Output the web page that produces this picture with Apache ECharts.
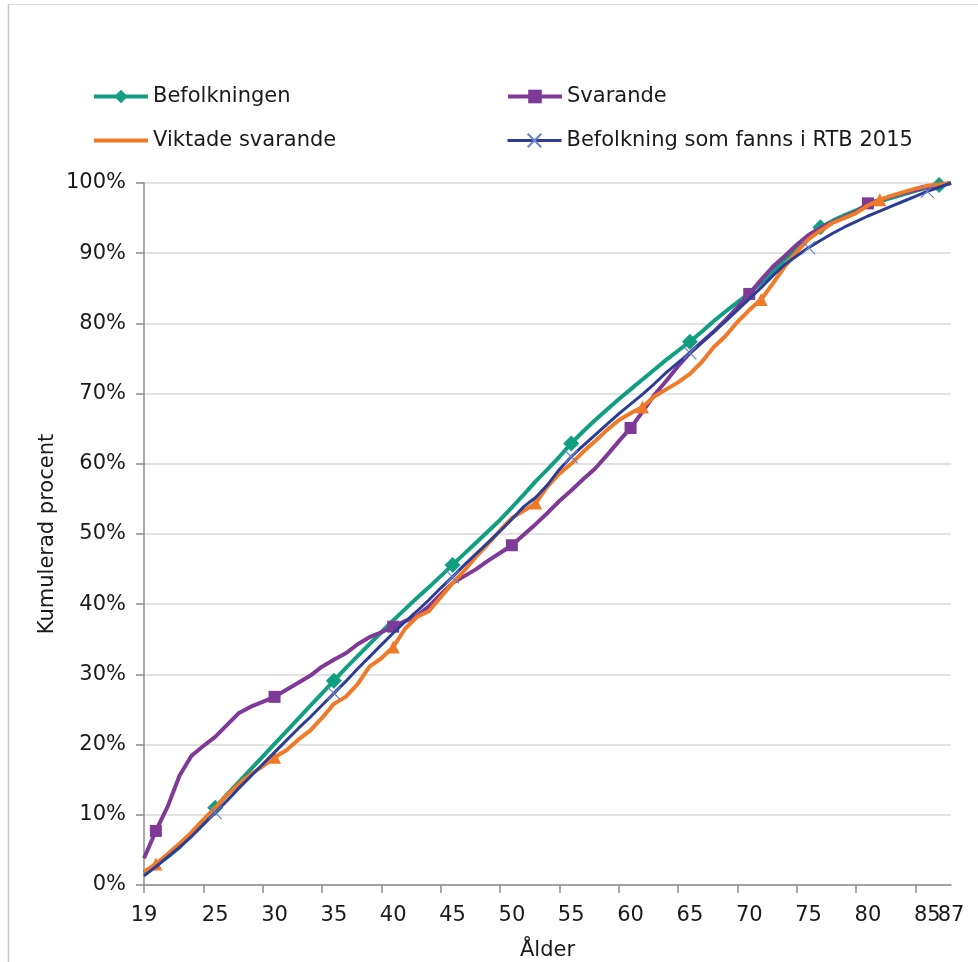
<!DOCTYPE html>
<html>
<head>
<meta charset="utf-8">
<script src="https://cdn.jsdelivr.net/npm/echarts@6/dist/echarts.min.js"></script>
<style>
  html, body { margin: 0; padding: 0; background: #ffffff; }
  #chart { width: 978px; height: 962px; }
</style>
</head>
<body>
<div id="chart"></div>
<script>
const ages = [19,20,21,22,23,24,25,26,27,28,29,30,31,32,33,34,35,36,37,38,39,40,41,42,43,44,45,46,47,48,49,50,51,52,53,54,55,56,57,58,59,60,61,62,63,64,65,66,67,68,69,70,71,72,73,74,75,76,77,78,79,80,81,82,83,84,85,86,87];
const xTickLabels = [19,25,30,35,40,45,50,55,60,65,70,75,80,85,87];

const befolkningen = [1.7,2.8,4.0,5.4,7.1,9.0,11.0,12.9,14.7,16.5,18.3,20.1,21.9,23.7,25.5,27.3,29.1,30.9,32.6,34.3,36.0,37.7,39.3,40.9,42.4,44.0,45.6,47.2,48.8,50.4,52.0,53.8,55.6,57.5,59.2,61.0,62.9,64.6,66.2,67.7,69.2,70.6,72.0,73.4,74.8,76.1,77.4,78.8,80.3,81.7,83.0,84.3,85.8,87.4,89.1,90.8,92.5,93.7,94.6,95.4,96.1,96.8,97.4,97.9,98.4,98.9,99.3,99.7,100];
const svarande = [3.8,7.7,11.2,15.6,18.4,19.8,21.1,22.8,24.5,25.4,26.1,26.8,27.8,28.8,29.8,31.1,32.1,33.0,34.3,35.3,36.0,36.8,37.6,38.3,39.7,41.4,43.0,44.0,45.0,46.2,47.3,48.4,49.9,51.4,53.0,54.7,56.2,57.8,59.3,61.2,63.2,65.1,67.4,69.8,71.8,73.9,75.8,77.3,78.8,80.5,82.3,84.2,86.2,88.1,89.6,91.2,92.6,93.6,94.4,95.1,95.9,97.1,97.6,98.1,98.6,99.0,99.4,99.7,100];
const viktadeSvarande = [1.9,3.0,4.4,5.9,7.5,9.3,11.0,12.8,14.4,15.8,16.9,18.2,19.2,20.7,22.0,23.8,25.8,26.8,28.6,31.1,32.3,33.9,36.5,38.2,39.0,41.0,43.0,44.8,46.8,48.6,50.5,52.3,53.3,54.4,56.8,58.6,60.0,61.7,63.2,64.8,66.2,67.2,68.1,69.6,70.6,71.6,72.8,74.5,76.6,78.2,80.2,81.9,83.4,85.7,88.1,90.2,92.0,93.2,94.3,95.0,95.7,96.8,97.6,98.2,98.7,99.2,99.6,99.8,100];
const rtb2015 = [1.3,2.6,4.0,5.4,6.9,8.6,10.3,12.0,13.8,15.5,17.2,18.9,20.6,22.3,23.9,25.6,27.3,29.0,30.8,32.5,34.2,35.9,37.5,39.0,40.6,42.3,43.9,45.6,47.2,48.8,50.4,52.1,53.9,55.2,57.0,59.2,61.0,62.6,64.1,65.6,67.1,68.5,69.9,71.4,73.0,74.4,75.8,77.3,78.8,80.3,81.9,83.5,85.1,86.8,88.4,89.6,90.8,91.8,92.8,93.7,94.5,95.3,96.0,96.7,97.4,98.1,98.8,99.4,100];

const befMarkers = [25,35,45,55,65,76,86];
const svaMarkers = [20,30,40,50,60,70,80];
const vikMarkers = [20,30,40,52,61,71,81];
const rtbMarkers = [25,35,45,55,65,75,85];

const seriesNames = ['Befolkningen', 'Svarande', 'Viktade svarande', 'Befolkning som fanns i RTB 2015'];

const FONT = 'DejaVu Sans';
const TXT = '#1a1a1a';
const AXIS = '#8c8c8c';

function withMarkers(values, markerAges, symbol, size) {
  return values.map((v, i) => markerAges.indexOf(ages[i]) >= 0
    ? { value: v, symbol: symbol, symbolSize: size }
    : { value: v, symbol: 'none' });
}

const crossPath = 'path://M0,0L10,10M10,0L0,10';
const lastAge = ages[ages.length - 1];

const chart = echarts.init(document.getElementById('chart'), null, { renderer: 'canvas' });

const legendCommon = {
  orient: 'horizontal',
  padding: 0,
  itemWidth: 54,
  itemHeight: 17,
  itemGap: 0,
  lineStyle: { width: 4 },
  textStyle: { fontFamily: FONT, fontSize: 21, color: TXT },
  selectedMode: false
};

const xLabelStyle = { fontFamily: FONT, fontSize: 21, color: TXT };

chart.setOption({
  backgroundColor: '#ffffff',
  animation: false,
  textStyle: { fontFamily: FONT },
  graphic: [
    { type: 'line', shape: { x1: 8, y1: 4.5, x2: 978, y2: 4.5 }, style: { stroke: '#d9d9d9', lineWidth: 1 } },
    { type: 'line', shape: { x1: 8.5, y1: 4, x2: 8.5, y2: 962 }, style: { stroke: '#c8c8c8', lineWidth: 1.5 } }
  ],
  legend: [
    Object.assign({}, legendCommon, { left: 92, top: 86, data: [seriesNames[0]] }),
    Object.assign({}, legendCommon, { left: 506, top: 86, data: [seriesNames[1]] }),
    Object.assign({}, legendCommon, { left: 92, top: 130, data: [{ name: seriesNames[2], itemStyle: { color: 'rgba(0,0,0,0)', borderWidth: 0 } }] }),
    Object.assign({}, legendCommon, { left: 506, top: 130, lineStyle: { width: 3 }, data: [seriesNames[3]] })
  ],
  grid: { left: 144, right: 27, top: 183, bottom: 77, containLabel: false, outerBoundsMode: 'none' },
  xAxis: [
    {
      type: 'category',
      data: ages.map(String),
      boundaryGap: false,
      name: 'Ålder',
      nameLocation: 'middle',
      nameGap: 55,
      nameTextStyle: { fontFamily: FONT, fontSize: 21, color: TXT },
      axisLine: { show: true, lineStyle: { color: AXIS, width: 1.5 } },
      axisTick: { show: true, length: 8, interval: (i) => i % 5 === 0, lineStyle: { color: AXIS, width: 1.5 } },
      axisLabel: Object.assign({
        interval: (i, v) => xTickLabels.indexOf(Number(v)) >= 0,
        margin: 20,
        showMinLabel: true, showMaxLabel: false
      }, xLabelStyle),
      splitLine: { show: false }
    },
    {
      type: 'category',
      data: ages.map(String),
      boundaryGap: false,
      position: 'bottom',
      axisLine: { show: false },
      axisTick: { show: false },
      axisLabel: Object.assign({
        interval: (i, v) => Number(v) === lastAge,
        margin: 20,
        showMinLabel: false, showMaxLabel: true
      }, xLabelStyle),
      splitLine: { show: false }
    }
  ],
  yAxis: {
    type: 'value',
    min: 0, max: 100, interval: 10,
    name: 'Kumulerad procent',
    nameLocation: 'middle',
    nameGap: 86,
    nameMoveOverlap: false,
    nameRotate: 90,
    nameTextStyle: { fontFamily: FONT, fontSize: 21, color: TXT },
    axisLine: { show: true, lineStyle: { color: AXIS, width: 1.5 } },
    axisTick: { show: true, length: 8, lineStyle: { color: AXIS, width: 1.5 } },
    axisLabel: { formatter: '{value}%', margin: 18, fontFamily: FONT, fontSize: 21, color: TXT },
    splitLine: { show: true, lineStyle: { color: '#d9d9d9', width: 1.5 } }
  },
  series: [
    {
      name: seriesNames[0], type: 'line',
      data: withMarkers(befolkningen, befMarkers, 'diamond', 16),
      symbol: 'diamond', symbolSize: 16, showSymbol: true, showAllSymbol: true,
      itemStyle: { color: '#129e80' },
      lineStyle: { color: '#129e80', width: 4 }, z: 2
    },
    {
      name: seriesNames[1], type: 'line',
      data: withMarkers(svarande, svaMarkers, 'rect', 12),
      symbol: 'rect', symbolSize: 12, showSymbol: true, showAllSymbol: true,
      itemStyle: { color: '#7e3a96' },
      lineStyle: { color: '#7e3a96', width: 4 }, z: 3
    },
    {
      name: seriesNames[2], type: 'line',
      data: withMarkers(viktadeSvarande, vikMarkers, 'triangle', 13),
      symbol: 'triangle', symbolSize: 13, showSymbol: true, showAllSymbol: true,
      itemStyle: { color: '#f07a28' },
      lineStyle: { color: '#f07a28', width: 4 }, z: 4
    },
    {
      name: seriesNames[3], type: 'line',
      data: withMarkers(rtb2015, rtbMarkers, crossPath, 13),
      symbol: crossPath, symbolSize: 13, showSymbol: true, showAllSymbol: true,
      itemStyle: { color: 'rgba(0,0,0,0)', borderColor: '#6a82d0', borderWidth: 1.2 },
      lineStyle: { color: '#2b3d97', width: 3 }, z: 5
    }
  ]
});
</script>
</body>
</html>
